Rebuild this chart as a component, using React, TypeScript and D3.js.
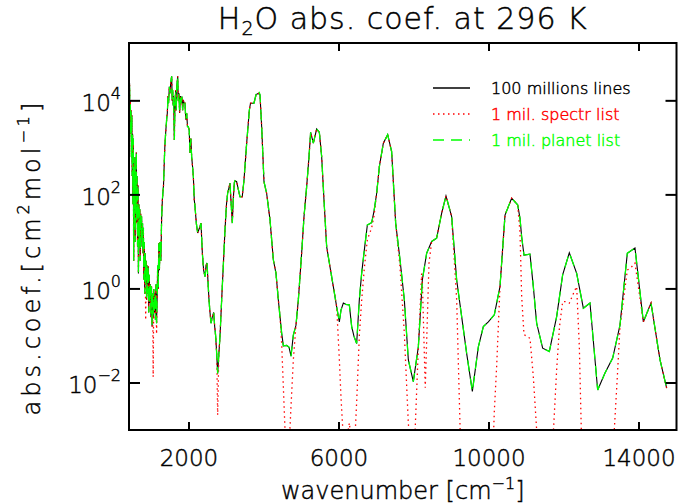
import React from 'react';
import * as d3 from 'd3';

// wavenumber [cm-1], log10 of abs. coef.
const lines100M: [number, number][] = [
  [405, 4.1], [415, 4.38], [425, 3.6], [435, 4.0], [445, 3.3], [455, 3.8], [465, 2.8], [475, 3.7],
  [485, 2.4], [495, 3.3], [505, 1.8], [515, 3.2], [525, 0.6], [535, 2.6], [545, 1.3], [555, 2.8],
  [565, 1.0], [575, 2.5], [585, 1.6], [595, 2.9], [605, 1.4], [615, 2.4], [628, 0.9], [640, 2.2],
  [652, 0.33], [664, 1.8], [676, 1.0], [688, 1.7], [700, 0.6], [712, 1.6], [724, 1.1], [736, 1.54],
  [748, 0.9], [760, 1.4], [772, 0.76], [784, 1.3], [796, 0.2], [808, 1.0], [820, -0.1], [832, 0.76],
  [845, 0.1], [858, 0.6], [870, -0.23], [884, 0.5], [898, -0.1], [912, 0.48], [926, -0.5], [940, 0.3],
  [955, -0.3], [970, 0.1], [985, -0.6], [1000, 0.05], [1015, -0.8], [1030, -0.1], [1045, -0.6],
  [1060, 0.0], [1075, -0.5], [1090, -0.1], [1105, -0.66], [1120, 0.1], [1135, -0.73], [1150, -0.2],
  [1165, 0.5], [1180, 0.0], [1195, 0.97], [1210, 0.4], [1230, 1.0], [1250, 0.6], [1270, 1.5],
  [1290, 1.9], [1320, 2.2], [1345, 2.8], [1360, 3.1], [1385, 3.4], [1404, 3.6], [1422, 3.74],
  [1440, 4.1], [1455, 3.95], [1475, 4.3], [1493, 4.16], [1515, 4.4], [1538, 4.52], [1552, 4.0],
  [1564, 4.23], [1578, 3.9], [1590, 4.1], [1609, 3.17], [1625, 3.9], [1644, 4.23], [1660, 3.8],
  [1675, 4.3], [1698, 4.52], [1715, 4.0], [1733, 4.16], [1750, 3.74], [1770, 4.1], [1787, 3.95],
  [1810, 4.09], [1830, 3.8], [1849, 4.02], [1870, 3.95], [1893, 3.95], [1915, 3.6], [1938, 3.74],
  [1960, 3.45], [1982, 3.45], [2005, 3.38], [2027, 2.89], [2050, 3.2], [2071, 2.81], [2095, 2.6],
  [2116, 2.39], [2140, 1.9], [2160, 1.75], [2195, 1.4], [2231, 1.19], [2280, 1.3], [2320, 1.4],
  [2356, 0.76], [2390, 0.4], [2427, 0.26], [2455, 0.5], [2480, 0.55], [2510, 0.1], [2533, -0.23],
  [2560, -0.5], [2587, -0.73], [2620, -0.6], [2658, -0.5], [2685, -0.8], [2711, -1.0], [2740, -1.4],
  [2764, -1.8], [2795, -1.4], [2827, -1.0], [2871, -0.23], [2915, 0.5], [2960, 1.26], [3000, 1.8],
  [3031, 2.04], [3065, 2.15], [3093, 2.25], [3125, 1.8], [3155, 1.4], [3180, 1.9], [3209, 2.26],
  [3227, 2.3], [3270, 2.28], [3320, 2.1], [3360, 1.96], [3420, 1.96], [3467, 2.32], [3538, 3.1],
  [3609, 3.8], [3640, 3.95], [3671, 3.95], [3733, 3.95], [3787, 4.13], [3849, 4.16], [3893, 4.13],
  [3938, 3.45], [4000, 2.28], [4071, 2.03], [4160, 1.47], [4249, 0.62], [4320, 0.33], [4382, -0.23],
  [4427, -0.59], [4471, -0.94], [4516, -1.21], [4604, -1.2], [4667, -1.24], [4720, -1.43],
  [4782, -0.98], [4853, -0.77], [4916, -0.23], [5004, 0.76], [5067, 1.54], [5138, 2.18], [5200, 2.81],
  [5244, 3.33], [5316, 3.1], [5404, 3.4], [5476, 3.33], [5538, 2.81], [5600, 1.89], [5671, 0.9],
  [5760, 0.47], [5849, 0.05], [5938, -0.38], [6009, -0.7], [6053, -0.45], [6116, -0.3], [6187, -0.33],
  [6276, -0.34], [6338, -0.8], [6400, -1.01], [6471, -1.16], [6542, -0.23], [6604, 0.33], [6676, 0.83],
  [6756, 1.36], [6871, 1.41], [6933, 1.65], [7004, 2.03], [7076, 2.6], [7182, 3.1], [7298, 3.28],
  [7404, 2.92], [7511, 1.4], [7627, 0.62], [7742, -0.23], [7849, -1.51], [7982, -1.97], [8116, -1.23],
  [8222, 0.19], [8338, 0.76], [8471, 1.01], [8604, 1.08], [8738, 1.61], [8853, 1.98], [9004, 1.54],
  [9138, 0.19], [9271, -0.59], [9404, -1.37], [9556, -2.18], [9716, -1.23], [9849, -0.8], [9982, -0.7],
  [10142, -0.55], [10293, 0.05], [10427, 1.57], [10604, 1.93], [10764, 1.79], [10827, 1.5],
  [10871, 1.11], [10933, 0.72], [11093, 0.74], [11182, 0.05], [11271, -0.73], [11431, -1.26],
  [11609, -1.33], [11804, -0.59], [11964, 0.3], [12142, 0.77], [12338, 0.33], [12516, -0.41],
  [12693, -0.3], [12898, -2.15], [13093, -1.79], [13298, -1.47], [13493, -0.77], [13689, 0.76],
  [13893, 0.87], [14116, -0.7], [14320, -0.3], [14560, -1.51], [14738, -2.11],
];

// red curve: points where the 1 mil. spectr list departs from the black one
const spectrDeviations: [number, number][] = [
  [845, -0.66], [1045, -1.87], [1135, -0.96], [2764, -2.68],
  [4471, -1.16], [4516, -2.08], [4604, -3.9], [4667, -3.4], [4720, -2.5], [4782, -1.51],
  [6009, -1.5], [6053, -2.3], [6116, -3.2], [6187, -3.3], [6276, -2.85], [6338, -3.3], [6400, -3.6],
  [6471, -2.4], [6542, -1.0], [6604, -0.25], [6676, 0.45], [6756, 1.05], [6871, 1.3], [6933, 1.55],
  [7627, 0.47], [7742, -0.94], [7849, -2.86], [7982, -4.0], [8050, -2.6], [8116, -1.25], [8204, 0.33],
  [8300, -2.1], [8338, -1.1], [8400, 0.55],
  [9138, -0.23], [9200, -2.1], [9271, -4.2], [9404, -5], [9556, -5], [9716, -5], [9849, -5],
  [9982, -5], [10060, -4.5], [10142, -2.6], [10204, -1.65],
  [10827, 1.2], [10871, -0.16], [10933, -0.97], [11093, -1.05], [11182, -1.87], [11271, -3.0],
  [11431, -4], [11609, -4], [11700, -3.3], [11804, -1.72], [11880, -0.8], [11964, -0.27],
  [12071, -0.27], [12142, -0.3], [12293, -0.02], [12338, 0.05], [12409, -1.23], [12470, -3.3],
  [12516, -4], [12693, -4], [12898, -4], [13093, -4], [13298, -3.6], [13422, -1.87], [13493, -0.8],
  [13689, 0.4], [13804, 0.47], [13893, 0.55],
];

// green curve: practically on top of the black one
const planetDeviations: [number, number][] = [[3849, 4.24]];

const xTicks = [2000, 6000, 10000, 14000];
const yTickExponents = [4, 2, 0, -2];

const legendItems = [
  { label: '100 millions lines', color: '#000000', dash: 'none' },
  { label: '1 mil. spectr list', color: '#ff0000', dash: '1.5,3.5' },
  { label: '1 mil. planet list', color: '#00ff00', dash: '11,7' },
];

const withDeviations = (base: [number, number][], dev: [number, number][]) => {
  const m = new Map(base);
  dev.forEach(([w, v]) => m.set(w, v));
  return Array.from(m).sort((a, b) => a[0] - b[0]);
};

const W = 678;
const H = 504;
const plot = { left: 129, right: 676.5, top: 43, bottom: 430 };
const font = "'DejaVu Sans', sans-serif";
// thin vector-like lettering: extra-light face with a hairline outline
const ink = (c: string) => ({ fill: c, stroke: c, strokeWidth: 0.45 });

export default function App() {
  const x = d3.scaleLinear().domain([400, 15000]).range([plot.left, plot.right]);
  const y = d3.scaleLog().domain([1e-3, 10 ** 5.23]).range([plot.bottom, plot.top]);

  const line = d3
    .line<[number, number]>()
    .x((d) => x(d[0]))
    .y((d) => y(10 ** d[1]));

  const spectr = withDeviations(lines100M, spectrDeviations);
  const planet = withDeviations(lines100M, planetDeviations);

  return (
    <svg
      width={W}
      height={H}
      style={{ position: 'absolute', left: 0, top: 0, background: '#fff', fontFamily: font, fontWeight: 200 }}
    >
      <defs>
        <clipPath id="plotClip">
          <rect x={plot.left} y={plot.top} width={plot.right - plot.left} height={plot.bottom - plot.top} />
        </clipPath>
      </defs>

      {/* Title */}
      <text x={(plot.left + plot.right) / 2} y={29} textAnchor="middle" fontSize={30} letterSpacing={1} {...ink('#000')}>
        H<tspan fontSize={19} dy={6}>2</tspan>
        <tspan dy={-6}>O abs. coef. at 296 K</tspan>
      </text>

      {/* Curves */}
      <g clipPath="url(#plotClip)" fill="none">
        <path d={line(lines100M) ?? ''} stroke="#000" strokeWidth={1.1} />
        <path d={line(spectr) ?? ''} stroke="#ff0000" strokeWidth={1.3} strokeDasharray="1.5,3.5" />
        <path d={line(planet) ?? ''} stroke="#00ff00" strokeWidth={1.3} strokeDasharray="11,7" />
      </g>

      {/* Frame */}
      <rect
        x={plot.left}
        y={plot.top}
        width={plot.right - plot.left}
        height={plot.bottom - plot.top}
        fill="none"
        stroke="#000"
        strokeWidth={2}
      />

      {/* X ticks */}
      {xTicks.map((t) => (
        <g key={t}>
          <line x1={x(t)} x2={x(t)} y1={plot.bottom} y2={plot.bottom - 8} stroke="#000" strokeWidth={2} />
          <line x1={x(t)} x2={x(t)} y1={plot.top} y2={plot.top + 8} stroke="#000" strokeWidth={2} />
          <text x={x(t)} y={466} textAnchor="middle" fontSize={23} {...ink('#000')}>
            {t}
          </text>
        </g>
      ))}

      {/* Y ticks */}
      {yTickExponents.map((e) => (
        <g key={e}>
          <line x1={plot.left} x2={plot.left + 11} y1={y(10 ** e)} y2={y(10 ** e)} stroke="#000" strokeWidth={2} />
          <line x1={plot.right} x2={plot.right - 11} y1={y(10 ** e)} y2={y(10 ** e)} stroke="#000" strokeWidth={2} />
          <text x={121} y={y(10 ** e) + 10} textAnchor="end" fontSize={23} {...ink('#000')}>
            10
            <tspan fontSize={16} dy={-12}>
              {e < 0 ? `\u2212${-e}` : e}
            </tspan>
          </text>
        </g>
      ))}

      {/* Axis titles */}
      <text x={(plot.left + plot.right) / 2} y={499} textAnchor="middle" fontSize={24} {...ink('#000')}>
        wavenumber [cm<tspan fontSize={16} dy={-10}>{'\u22121'}</tspan>
        <tspan dy={10}>]</tspan>
      </text>
      <text
        transform={`translate(40, 257) rotate(-90)`}
        textAnchor="middle"
        fontSize={24}
        letterSpacing={4}
        {...ink('#000')}
      >
        abs.coef.[cm<tspan fontSize={16} dy={-11}>2</tspan>
        <tspan dy={11}>mol</tspan>
        <tspan fontSize={16} dy={-11}>{'\u22121'}</tspan>
        <tspan dy={11}>]</tspan>
      </text>

      {/* Legend */}
      {legendItems.map((it, i) => (
        <g key={it.label} transform={`translate(0, ${88 + i * 26})`}>
          <line x1={433} x2={470} y1={0} y2={0} stroke={it.color} strokeWidth={1.3} strokeDasharray={it.dash} />
          <text x={491} y={6} fontSize={16} {...ink(it.color)}>
            {it.label}
          </text>
        </g>
      ))}
    </svg>
  );
}
